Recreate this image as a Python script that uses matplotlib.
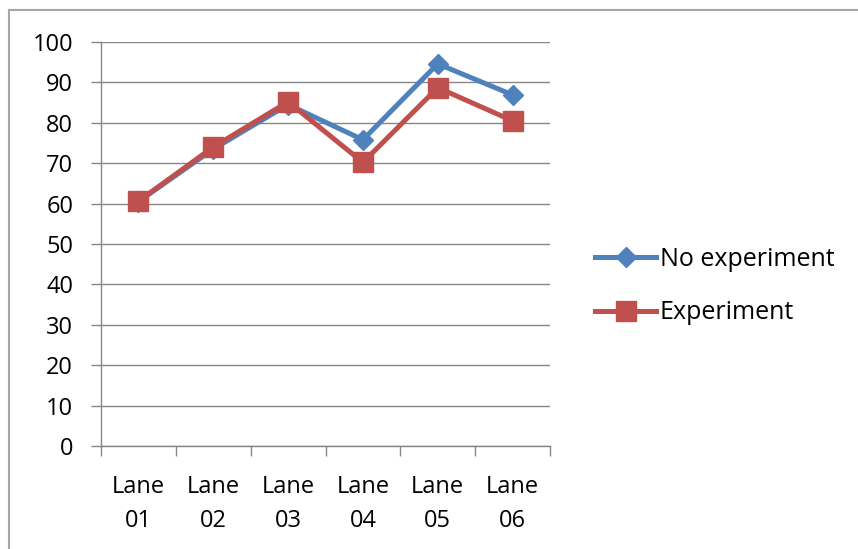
import matplotlib
matplotlib.use("Agg")
import matplotlib.pyplot as plt
from matplotlib.lines import Line2D

categories = ["Lane\n01", "Lane\n02", "Lane\n03", "Lane\n04", "Lane\n05", "Lane\n06"]
no_experiment = [60.5, 73.5, 84.5, 75.8, 94.6, 86.9]
experiment = [60.6, 74.0, 85.2, 70.2, 88.7, 80.5]
y_ticks = [0, 10, 20, 30, 40, 50, 60, 70, 80, 90, 100]

blue = "#4F81BD"
red = "#C0504D"
grid_c = "#868686"

plt.rcParams['font.family'] = ['Open Sans', 'DejaVu Sans']

W, H = 858, 549
fig = plt.figure(figsize=(W / 100, H / 100), dpi=100)
ax = fig.add_axes([101 / W, (H - 446) / H, (550 - 101) / W, (446 - 42) / H])

x = list(range(1, len(categories) + 1))
ax.plot(x, no_experiment, color=blue, lw=3.6, marker="D", ms=10.5,
        markerfacecolor=blue, markeredgecolor=blue, label="No experiment", zorder=3)
ax.plot(x, experiment, color=red, lw=3.6, marker="s", ms=14,
        markerfacecolor=red, markeredgecolor=red, label="Experiment", zorder=4)

ax.set_xlim(0.5, len(categories) + 0.5)
ax.set_ylim(0, 100)
ax.set_yticks(y_ticks)
ax.set_yticklabels([str(v) for v in y_ticks])
ax.yaxis.grid(True, color=grid_c, lw=1)
ax.set_axisbelow(True)

ax.set_xticks([i + 0.5 for i in range(len(categories) + 1)])
ax.set_xticklabels([])
ax.set_xticks(x, minor=True)
ax.set_xticklabels(categories, minor=True, fontsize=17, linespacing=1.55)
ax.tick_params(axis="x", which="minor", length=0, pad=21)
ax.tick_params(axis="x", which="major", length=7, color=grid_c, width=1, direction="out")
ax.tick_params(axis="y", length=7, color=grid_c, width=1, direction="out", pad=13, labelsize=17)

for s in ["top", "right"]:
    ax.spines[s].set_visible(False)
for s in ["left", "bottom"]:
    ax.spines[s].set_color(grid_c)
    ax.spines[s].set_linewidth(1)

handles = [
    Line2D([0], [0], color=blue, lw=3.6, marker="D", ms=10.5),
    Line2D([0], [0], color=red, lw=3.6, marker="s", ms=14),
]
fig.legend(handles, ["No experiment", "Experiment"], loc="center left",
           bbox_to_anchor=(595 / W, 1 - 286 / H), frameon=False, fontsize=18,
           handlelength=2.45, handletextpad=0.15, labelspacing=1.15,
           borderaxespad=0, borderpad=0)

# chart border
fig.add_artist(Line2D([9 / W, 1], [1 - 10 / H, 1 - 10 / H], color="#A6A6A6", lw=1.5))
fig.add_artist(Line2D([9 / W, 9 / W], [0, 1 - 10 / H], color="#A6A6A6", lw=1.5))

fig.savefig("out.png", dpi=100)
